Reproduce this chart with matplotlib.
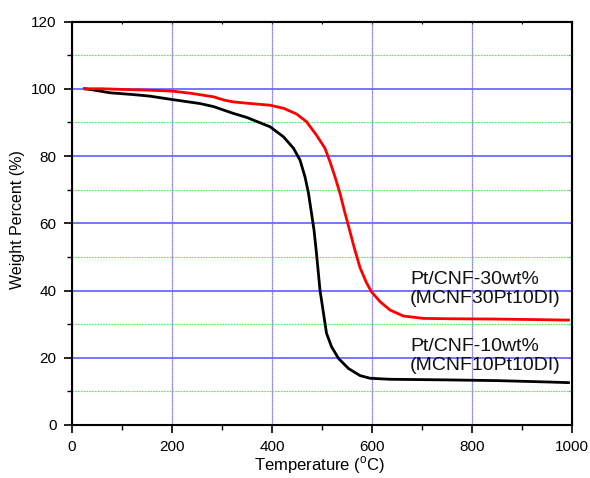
import matplotlib
matplotlib.use("Agg")
import matplotlib.pyplot as plt
from matplotlib.ticker import MultipleLocator

plt.rcParams['font.family'] = ['Liberation Sans', 'DejaVu Sans']
plt.rcParams['mathtext.fontset'] = 'custom'
plt.rcParams['mathtext.rm'] = 'Liberation Sans'

# Data
temp_30 = [25, 60, 100, 150, 200, 240, 283, 305, 322, 350, 396, 423, 449, 469, 489,
           506, 516, 526, 536, 546, 556, 564, 576, 589, 599, 616, 636, 663, 703, 756,
           850, 950, 993]
wt_30 = [100, 100, 99.8, 99.6, 99.3, 98.6, 97.6, 96.6, 96.1, 95.7, 95.1, 94.2, 92.5, 90.2, 86.2,
         82.3, 78.3, 73.8, 68.9, 63.0, 57.5, 53.0, 46.8, 42.3, 39.6, 36.7, 34.2, 32.4, 31.7, 31.6,
         31.5, 31.3, 31.2]

temp_10 = [25, 40, 76, 120, 156, 200, 256, 283, 322, 349, 396, 423, 443, 456, 466,
           473, 479, 484, 489, 496, 503, 509, 519, 533, 553, 576, 596, 636, 756, 850,
           950, 993]
wt_10 = [100, 99.7, 98.8, 98.3, 97.8, 96.8, 95.6, 94.7, 92.7, 91.5, 88.7, 85.7, 82.3, 78.8, 73.8,
         68.9, 63.0, 58.0, 51.0, 40.1, 33.2, 27.3, 23.3, 19.8, 16.8, 14.7, 13.9, 13.6, 13.4, 13.2,
         12.8, 12.6]

label_30 = "Pt/CNF-30wt%\n(MCNF30Pt10DI)"
label_10 = "Pt/CNF-10wt%\n(MCNF10Pt10DI)"

fig = plt.figure(figsize=(5.9, 4.78), dpi=100)
ax = fig.add_axes([72/590, 1-425/478, 500/590, (425-21.5)/478])

ax.set_xlim(0, 1000)
ax.set_ylim(0, 120)
ax.xaxis.set_major_locator(MultipleLocator(200))
ax.xaxis.set_minor_locator(MultipleLocator(100))
ax.yaxis.set_major_locator(MultipleLocator(20))
ax.yaxis.set_minor_locator(MultipleLocator(10))

# grid
ax.grid(axis='y', which='major', color='#6b6bff', linestyle='-', linewidth=1.3, zorder=0)
ax.grid(axis='y', which='minor', color='#55ee55', linestyle=(0, (1.5, 1)), linewidth=0.8, zorder=0)
ax.grid(axis='x', which='major', color='#5555ff', linestyle=(0, (1, 0.6)), linewidth=0.9, zorder=0)
ax.grid(axis='x', which='minor', visible=False)
ax.set_axisbelow(True)

ax.plot(temp_10, wt_10, color='black', linewidth=2.0, zorder=3, solid_joinstyle='round')
ax.plot(temp_30, wt_30, color='#ff0000', linewidth=2.0, zorder=3, solid_joinstyle='round')

ax.text(676, 40.4, label_30, fontsize=14, ha='left', va='center', linespacing=1.12, color='#111111')
ax.text(676, 20.6, label_10, fontsize=14, ha='left', va='center', linespacing=1.12, color='#111111')

for s in ax.spines.values():
    s.set_linewidth(1.5)
    s.set_color('black')

ax.tick_params(which='major', direction='out', length=6, width=1.2, labelsize=11, pad=5)
ax.tick_params(which='minor', direction='out', length=3.5, width=1.0)

# small inward ticks on top and right
tx = ax.secondary_xaxis('top')
tx.xaxis.set_major_locator(MultipleLocator(200))
tx.xaxis.set_minor_locator(MultipleLocator(100))
tx.tick_params(which='both', direction='in', length=2, width=0.8, labeltop=False)
ty = ax.secondary_yaxis('right')
ty.yaxis.set_major_locator(MultipleLocator(20))
ty.yaxis.set_minor_locator(MultipleLocator(10))
ty.tick_params(which='both', direction='in', length=2, width=0.8, labelright=False)

ax.set_xlabel(r'Temperature ($^{\mathrm{o}}$C)', fontsize=12)
ax.set_ylabel('Weight Percent (%)', fontsize=11.5)
ax.xaxis.set_label_coords(320/590, 1-465/478, transform=fig.transFigure)
ax.yaxis.set_label_coords(18/590, 1-220/478, transform=fig.transFigure)
ax.xaxis.label.set_va('center')
ax.yaxis.label.set_va('center')

fig.savefig('out.png', dpi=100)
